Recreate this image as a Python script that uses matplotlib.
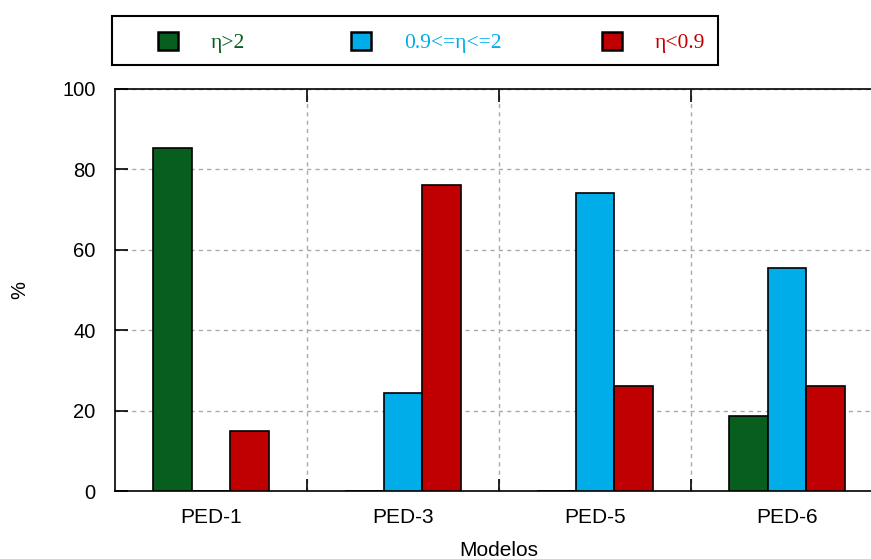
import numpy as np
import matplotlib
matplotlib.use("Agg")
import matplotlib.pyplot as plt
from matplotlib.patches import Rectangle

# datos
modelos = ["PED-1", "PED-3", "PED-5", "PED-6"]
eta_mayor_2 = [85.3, 0, 0, 18.7]
eta_medio = [0, 24.4, 74.1, 55.5]
eta_menor_09 = [14.9, 76.1, 26.1, 26.1]
etiquetas = ["η>2", "0.9<=η<=2", "η<0.9"]
colores = ["#075E1E", "#00ADE9", "#C00000"]

plt.rcParams['font.family'] = ['Liberation Sans', 'DejaVu Sans']

fig = plt.figure(figsize=(8.71, 5.59), dpi=100)
# el eje derecho queda fuera de la imagen, como en el original
ax = fig.add_axes([0.132, 0.1216, 0.8818, 0.7192])

x = np.arange(len(modelos))
w = 0.2
series = [eta_mayor_2, eta_medio, eta_menor_09]
handles = []
for i, (vals, col) in enumerate(zip(series, colores)):
    h = ax.bar(x + (i - 1) * w, vals, w, color=col, edgecolor='black',
               linewidth=1.2, zorder=3)
    handles.append(h)

ax.set_xlim(-0.5, 3.5)
ax.set_ylim(0, 100)
ax.set_yticks(np.arange(0, 101, 20))
ax.set_xticks(x)
ax.set_xticklabels(modelos)
ax.set_xticks([0.5, 1.5, 2.5], minor=True)

ax.tick_params(axis='x', which='major', length=0, labelsize=15, pad=12)
ax.tick_params(axis='x', which='minor', direction='in', length=9, width=1.2,
               top=True, bottom=True)
ax.tick_params(axis='y', direction='in', length=9, width=1.2, labelsize=14.5,
               left=True, right=True, pad=14)

ax.grid(True, axis='y', which='major', linestyle=(0, (3, 3)), color='#aaaaaa',
        linewidth=1, zorder=0)
ax.grid(True, axis='x', which='minor', linestyle=(0, (3, 3)), color='#aaaaaa',
        linewidth=1, zorder=0)
for s in ax.spines.values():
    s.set_linewidth(1.2)

ax.set_ylabel('%', fontsize=14.5)
ax.yaxis.set_label_coords(-0.112, 0.5)
ax.set_xlabel('Modelos', fontsize=15)
ax.xaxis.set_label_coords(0.5, -0.124)

# leyenda en recuadro superior
fig.patches.append(Rectangle((0.1286, 0.8837), 0.6958, 0.0877, transform=fig.transFigure,
                             fill=False, edgecolor='black', linewidth=1.5))
pos_leyenda = [158 / 871, 351 / 871, 602 / 871]
for h, lab, col, px in zip(handles, etiquetas, colores, pos_leyenda):
    leg = fig.legend([h], [lab], loc='center left', bbox_to_anchor=(px, 0.924),
                     frameon=False, borderpad=0, borderaxespad=0,
                     handlelength=0.95, handleheight=0.95, handletextpad=1.5,
                     prop={'family': ['Liberation Serif', 'DejaVu Serif'], 'size': 15.5})
    leg.get_texts()[0].set_color(col)
    leg.legend_handles[0].set_linewidth(1.8)

fig.savefig("out.png", dpi=100)
